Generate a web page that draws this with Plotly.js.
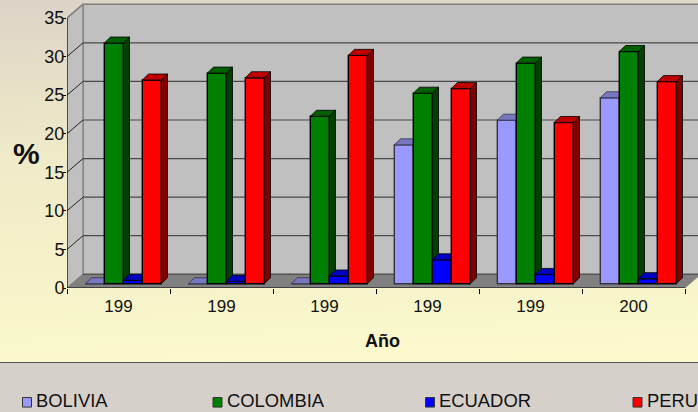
<!DOCTYPE html>
<html><head><meta charset="utf-8">
<script src="https://cdn.plot.ly/plotly-3.0.0.min.js"></script>
<style>
html,body{margin:0;padding:0;width:698px;height:412px;overflow:hidden}
#bg{position:absolute;left:0;top:0;width:698px;height:362px;background:linear-gradient(178deg,#DCD4C7 0%,#EFEAC8 40%,#FCFACD 100%)}
#band{position:absolute;left:0;top:362px;width:698px;height:50px;background:#D6D0CB;border-top:1px solid #555;box-sizing:border-box}
#chart{position:absolute;left:0;top:0;width:698px;height:412px}
</style></head><body>
<div id="bg"></div><div id="band"></div><div id="chart"></div>
<script>
const years = ["199","199","199","199","199","200"];
const bolivia  = [0, 0, 0, 18.0, 21.2, 24.1];
const colombia = [31.2, 27.3, 21.7, 24.7, 28.6, 30.1];
const ecuador  = [0.45, 0.3, 1.0, 3.1, 1.2, 0.65];
const peru     = [26.4, 26.7, 29.6, 25.3, 20.9, 26.2];
const seriesNames = ["BOLIVIA","COLOMBIA","ECUADOR","PERU"];
const yTicks = [0,5,10,15,20,25,30,35];

// figure geometry
const W=698,H=412,L=67,R=0,T=3,B=124.4;
const pw=W-L-R, ph=H-T-B;
const pxX=103, pxY=269.6/35;
const wallDx=16/pxX, wallDy=13.7/pxY;     // floor depth in axis units
const barW=19/pxX, barStart=-0.5+18.3/pxX;
const barDx=6.2/pxX, barDy=6/pxY;         // bar depth
const barBase=4.3/pxY;                    // bars stand mid-floor

const styles=[
 {front:"#9999FF",top:"#7777BF",side:"#5C5C99",line:"#333344"},
 {front:"#008000",top:"#006000",side:"#004000",line:"#000000"},
 {front:"#0000FF",top:"#0000C0",side:"#000080",line:"#000000"},
 {front:"#FF0000",top:"#C00000",side:"#800000",line:"#000000"}
];
const seriesData=[bolivia,colombia,ecuador,peru];
const xIdx=years.map((_,i)=>i);
const traces=[];

function toXY(pts){
  const x=[],y=[];
  pts.forEach(p=>{ if(p){x.push(p[0]);y.push(p[1]);} else {x.push(null);y.push(null);} });
  return {x,y};
}
function poly(pts,fill,line,lw,xa,ya){
  const c=toXY(pts);
  return {type:"scatter",mode:"lines",x:c.x,y:c.y,fill:"toself",fillcolor:fill,
    line:{color:line,width:lw},hoverinfo:"skip",showlegend:false,cliponaxis:false,xaxis:xa,yaxis:ya};
}
function seg(pts,color,w){
  const c=toXY(pts);
  return {type:"scatter",mode:"lines",x:c.x,y:c.y,line:{color,width:w},hoverinfo:"skip",showlegend:false,cliponaxis:false,xaxis:"x",yaxis:"y"};
}
const x0=-0.5,x1=5.5;
const xRange=[x0,x0+pw/pxX], yRange=[0,ph/pxY];
// walls and floor
traces.push(poly([[x0+wallDx,wallDy],[x1+wallDx,wallDy],[x1+wallDx,35+wallDy],[x0+wallDx,35+wallDy],[x0+wallDx,wallDy]],"#C0C0C0","#808080",1.5,"x","y"));
traces.push(poly([[x0,0],[x0+wallDx,wallDy],[x0+wallDx,35+wallDy],[x0,35],[x0,0]],"#C0C0C0","#808080",1.2,"x","y"));
traces.push(poly([[x0,0],[x1,0],[x1+wallDx,wallDy],[x0+wallDx,wallDy],[x0,0]],"#808080","#808080",0.5,"x","y"));
// gridlines on the back wall and left wall
const grid=[],diag=[];
yTicks.filter(v=>v>0&&v<35).forEach(v=>{
  grid.push([x0+wallDx,v+wallDy],[x1+wallDx,v+wallDy],null);
  diag.push([x0,v],[x0+wallDx,v+wallDy],null);
});
traces.push(seg(grid,"#4A4A4A",1.2));
traces.push(seg(diag,"#222222",1));
traces.push(seg([[x0,35],[x0+wallDx,35+wallDy]],"#808080",1.5));
traces.push(seg([[x0+wallDx,wallDy],[x1+wallDx,wallDy]],"#555555",1.2));
traces.push(seg([[x0,35],[x0,0],[x1,0]],"#000000",1));

// one overlaid subplot per series so the paint order follows the series order
seriesData.forEach((vals,s)=>{
  const xa="x"+(s+2), ya="y"+(s+2), st=styles[s];
  const off=barStart+s*barW;
  traces.push({type:"bar",name:seriesNames[s],x:xIdx,y:vals,base:barBase,width:barW,offset:off,
    marker:{color:st.front,line:{color:st.line,width:1.4}},xaxis:xa,yaxis:ya,showlegend:false,hoverinfo:"skip",cliponaxis:false});
  const side=[],top=[];
  vals.forEach((v,i)=>{
    const l=i+off,r=l+barW,b=barBase,t=barBase+v;
    side.push([r,b],[r+barDx,b+barDy],[r+barDx,t+barDy],[r,t],[r,b],null);
    top.push([l,t],[r,t],[r+barDx,t+barDy],[l+barDx,t+barDy],[l,t],null);
  });
  traces.push(poly(side,st.side,"#000000",0.8,xa,ya));
  traces.push(poly(top,st.top,st.line,0.8,xa,ya));
});

const font="'Liberation Sans',Arial,sans-serif";
const layout={
  width:W,height:H,autosize:false,
  margin:{l:L,r:R,t:T,b:B,pad:0},
  paper_bgcolor:"rgba(0,0,0,0)",plot_bgcolor:"rgba(0,0,0,0)",
  font:{family:font,color:"#111111"},
  showlegend:false,
  xaxis:{range:xRange,tickvals:xIdx,ticktext:years,ticks:"",showgrid:false,zeroline:false,
    showline:false,tickfont:{size:17,family:font,color:"#111111"},ticklabelstandoff:6,
    minor:{tickmode:"array",tickvals:[-0.5,0.5,1.5,2.5,3.5,4.5,5.5],ticks:"outside",ticklen:5,tickcolor:"#000000",tickwidth:1,showgrid:false},
    title:{text:"<b>Año</b>",font:{size:18,family:font,color:"#111111"},standoff:19}},
  yaxis:{range:yRange,tickvals:yTicks,ticks:"outside",ticklen:3,tickcolor:"#000000",showgrid:false,zeroline:false,
    showline:false,ticklabelstandoff:-5,tickfont:{size:18,family:font,color:"#111111"}},
  annotations:[],shapes:[]
};
[2,3,4,5].forEach(n=>{
  layout["xaxis"+n]={range:xRange,overlaying:"x",visible:false,fixedrange:true};
  layout["yaxis"+n]={range:yRange,overlaying:"y",visible:false,fixedrange:true};
});
const pX=px=>(px-L)/pw, pY=py=>1-(py-T)/ph;
layout.annotations.push({text:"<b>%</b>",xref:"paper",yref:"paper",x:pX(26),y:pY(153),showarrow:false,
  xanchor:"center",yanchor:"middle",font:{size:30,family:font,color:"#111111"}});
const swatchX=[22.5,213,425.5,633], labelX=[35,225.7,438,645.7];
seriesNames.forEach((n,i)=>{
  layout.shapes.push({type:"rect",xref:"paper",yref:"paper",x0:pX(swatchX[i]),x1:pX(swatchX[i]+9),y0:pY(406.5),y1:pY(397),
    fillcolor:styles[i].front,line:{color:"#333333",width:1}});
  layout.annotations.push({text:n,xref:"paper",yref:"paper",x:pX(labelX[i]),y:pY(399.5),showarrow:false,
    xanchor:"left",yanchor:"middle",font:{size:18.4,family:font,color:"#111111"},borderpad:0});
});
Plotly.newPlot("chart",traces,layout,{displayModeBar:false,staticPlot:true});
</script></body></html>
